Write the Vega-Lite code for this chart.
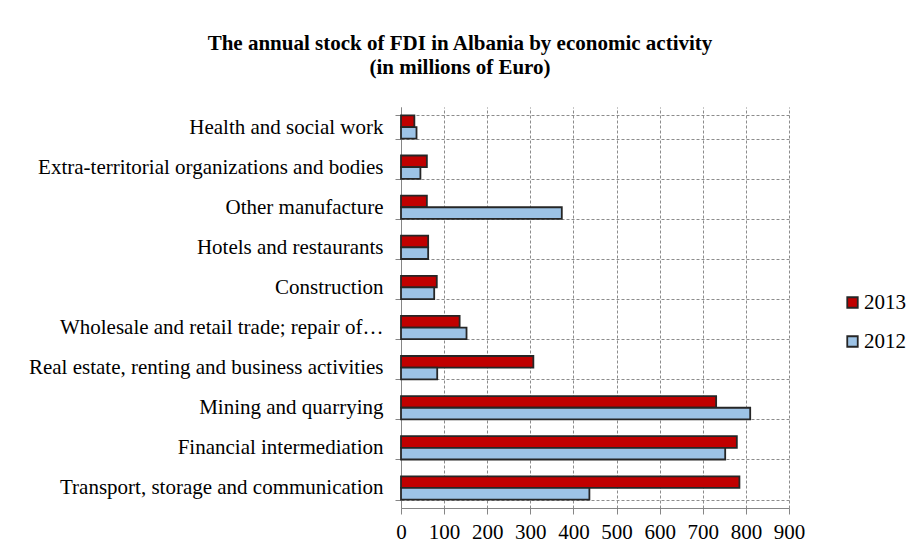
{
  "$schema": "https://vega.github.io/schema/vega-lite/v6.json",
  "width": 388,
  "height": 401,
  "autosize": {"type": "none"},
  "padding": {"left": 401, "top": 107, "right": 131, "bottom": 49},
  "background": "white",
  "title": {
    "text": ["The annual stock of FDI in Albania by economic activity", "(in millions of Euro)"],
    "font": "Liberation Serif, Times New Roman, serif",
    "fontSize": 21,
    "fontWeight": "bold",
    "color": "black",
    "anchor": "middle",
    "dx": -135,
    "lineHeight": 24,
    "baseline": "alphabetic",
    "offset": 1
  },
  "data": {
    "values": [
      {"activity": "Health and social work", "year": "2013", "value": 31},
      {"activity": "Health and social work", "year": "2012", "value": 36},
      {"activity": "Extra-territorial organizations and bodies", "year": "2013", "value": 60},
      {"activity": "Extra-territorial organizations and bodies", "year": "2012", "value": 45},
      {"activity": "Other manufacture", "year": "2013", "value": 60},
      {"activity": "Other manufacture", "year": "2012", "value": 373},
      {"activity": "Hotels and restaurants", "year": "2013", "value": 63},
      {"activity": "Hotels and restaurants", "year": "2012", "value": 63},
      {"activity": "Construction", "year": "2013", "value": 83},
      {"activity": "Construction", "year": "2012", "value": 77},
      {"activity": "Wholesale and retail trade; repair of…", "year": "2013", "value": 136},
      {"activity": "Wholesale and retail trade; repair of…", "year": "2012", "value": 152},
      {"activity": "Real estate, renting and business activities", "year": "2013", "value": 307},
      {"activity": "Real estate, renting and business activities", "year": "2012", "value": 84},
      {"activity": "Mining and quarrying", "year": "2013", "value": 731},
      {"activity": "Mining and quarrying", "year": "2012", "value": 810},
      {"activity": "Financial intermediation", "year": "2013", "value": 779},
      {"activity": "Financial intermediation", "year": "2012", "value": 752},
      {"activity": "Transport, storage and communication", "year": "2013", "value": 785},
      {"activity": "Transport, storage and communication", "year": "2012", "value": 437}
    ]
  },
  "mark": {"type": "bar", "stroke": "#262626", "strokeWidth": 1.8},
  "encoding": {
    "y": {
      "field": "activity",
      "type": "nominal",
      "sort": null,
      "scale": {"paddingInner": 0.42, "paddingOuter": 0.21},
      "axis": {
        "title": null,
        "tickBand": "extent",
        "grid": true,
        "gridDash": [3, 2],
        "gridColor": "#8c8c8c",
        "domainColor": "#868686",
        "tickColor": "#868686",
        "tickSize": 6,
        "labelPadding": 12,
        "labelFont": "Liberation Serif, Times New Roman, serif",
        "labelFontSize": 21,
        "labelColor": "black",
        "labelLimit": 0
      }
    },
    "yOffset": {"field": "year", "type": "nominal", "sort": ["2013", "2012"]},
    "x": {
      "field": "value",
      "type": "quantitative",
      "scale": {"domain": [0, 900], "nice": false},
      "axis": {
        "title": null,
        "values": [0, 100, 200, 300, 400, 500, 600, 700, 800, 900],
        "grid": true,
        "gridDash": [3, 2],
        "gridColor": "#8c8c8c",
        "domainColor": "#868686",
        "tickColor": "#868686",
        "tickSize": 6,
        "labelPadding": 7,
        "labelFont": "Liberation Serif, Times New Roman, serif",
        "labelFontSize": 21,
        "labelColor": "black",
        "labelFlush": false
      }
    },
    "color": {
      "field": "year",
      "type": "nominal",
      "scale": {"domain": ["2013", "2012"], "range": ["#C00000", "#9DC3E6"]},
      "legend": {
        "title": null,
        "orient": "none",
        "legendX": 441,
        "legendY": 185,
        "padding": 0,
        "symbolType": "square",
        "symbolSize": 110,
        "symbolStrokeColor": "#262626",
        "symbolStrokeWidth": 1.8,
        "symbolOpacity": 1,
        "labelFont": "Liberation Serif, Times New Roman, serif",
        "labelFontSize": 21,
        "labelColor": "black",
        "labelOffset": 1,
        "rowPadding": 17
      }
    }
  },
  "config": {"view": {"stroke": null}}
}
